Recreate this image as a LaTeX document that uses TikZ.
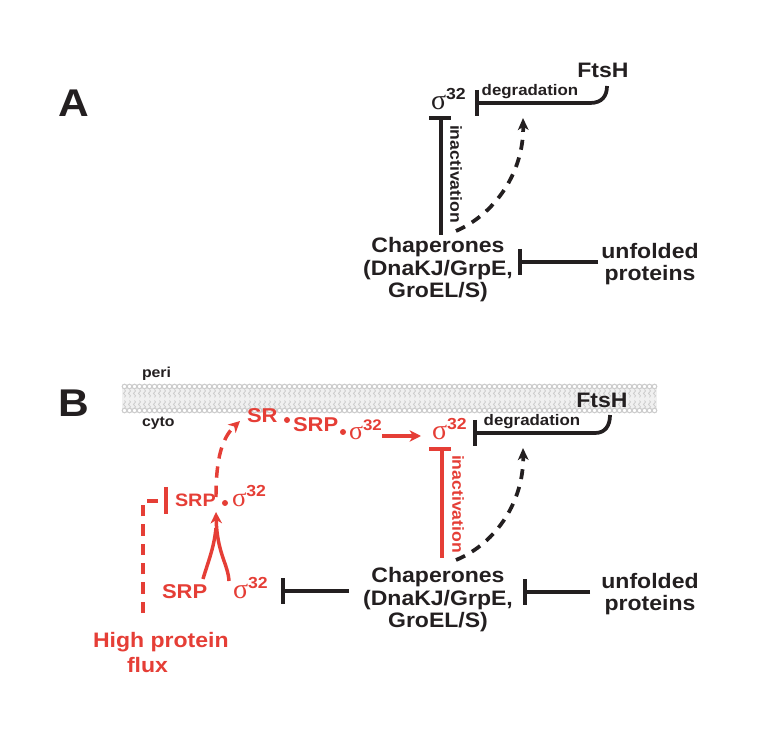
\documentclass[tikz,border=0pt]{standalone}
\usepackage{fontspec}
\setmainfont{Liberation Sans}[FakeStretch=1.1]
\newfontfamily\sigf{Liberation Serif}
\usetikzlibrary{arrows.meta,decorations.pathmorphing}
\definecolor{rd}{RGB}{229,62,54}
\definecolor{bk}{RGB}{35,31,32}
\definecolor{memb}{RGB}{205,205,205}
\definecolor{membl}{RGB}{240,240,240}
\newcommand\sgm[3]{{\sigf\fontsize{#1}{#1}\selectfont σ}\raisebox{#2}{\fontsize{#3}{#3}\selectfont\bfseries 32}}
\begin{document}
\begin{tikzpicture}[x=0.75pt,y=-0.75pt,
  every node/.style={inner sep=0pt,outer sep=0pt},
  big/.style={font=\fontsize{29}{29}\selectfont\bfseries,text=bk},
  txt/.style={font=\fontsize{15.7}{16.9}\selectfont\bfseries,text=bk,align=center},
  rtxt/.style={font=\fontsize{15}{16}\selectfont\bfseries,text=rd},
  small/.style={font=\fontsize{11.5}{12}\selectfont\bfseries,text=bk},
  tiny/.style={font=\fontsize{10.8}{11}\selectfont\bfseries,text=bk},
  rotl/.style={font=\fontsize{12}{12}\selectfont\bfseries,rotate=-90},
  bline/.style={draw=bk,line width=2.8pt},
  rline/.style={draw=rd,line width=2.6pt},
  bdash/.style={draw=bk,line width=2.8pt,dash pattern=on 7.5pt off 6pt},
  rdash/.style={draw=rd,line width=2.6pt,dash pattern=on 8.5pt off 6pt},
  tipk/.style={-{Stealth[length=9pt,width=8pt,inset=2.5pt]}},
  tipr/.style={-{Stealth[length=8.5pt,width=8.5pt,inset=2.5pt]}},
]
\useasboundingbox (0,0) rectangle (768,741);

% ================= Panel A =================
\node[big] (labA) at (74,103) {A};
\node[anchor=base west,text=bk] (sigA) at (431,110) {\sgm{21}{7.5pt}{12}};
\node[txt,anchor=base] (ftsA) at (603,78) {FtsH};
\node[small,anchor=base] (degA) at (530,96) {degradation};
\node[txt] (chapA) at (438,270) {Chaperones\\(DnaKJ/GrpE,\\GroEL/S)};
\node[txt] (unfA) at (650,264) {unfolded\\proteins};
\node[rotl,text=bk] (inaA) at (456,174) {inactivation};

\coordinate (dA1) at (477,103);
\coordinate (dA2) at (590,103);
\coordinate (dA3) at (607,86);
\draw[bline] (dA3) .. controls (607,96) and (602,103) .. (dA2) -- (dA1);
\draw[bline] (477,90) -- (477,116);

\coordinate (iA1) at (441,118);
\coordinate (iA2) at (441,235);
\draw[bline] (iA2) -- (iA1);
\draw[bline] (429,118) -- (451,118);

\coordinate (sA1) at (456,231);
\coordinate (sA2) at (523,118);
\draw[bdash,tipk] (sA1) .. controls (497,213) and (524,170) .. (sA2);

\coordinate (uA1) at (598,262);
\coordinate (uA2) at (520,262);
\draw[bline] (uA1) -- (uA2);
\draw[bline] (520,249) -- (520,275);

% ================= Panel B =================
\node[big] (labB) at (74,403) {B};

% membrane
\fill[membl] (122,386) rectangle (657,411);
\foreach \i in {0,...,106}{
  \pgfmathsetmacro\xx{124.5+5*\i}
  \draw[memb,line width=0.6pt,decorate,decoration={snake,amplitude=0.8pt,segment length=3.6pt}] (\xx,389.5) -- (\xx,397.5);
  \draw[memb,line width=0.6pt,decorate,decoration={snake,amplitude=0.8pt,segment length=3.6pt}] (\xx,400.5) -- (\xx,408.5);
  \draw[memb,fill=white,line width=0.8pt] (\xx,386.5) circle (2.3);
  \draw[memb,fill=white,line width=0.8pt] (\xx,410.5) circle (2.3);
}
\node[tiny,anchor=base west] (peri) at (142,378) {peri};
\node[tiny,anchor=base west] (cyto) at (142,427) {cyto};

% SR . SRP . sigma complex
\node[rtxt,anchor=base west] (sr) at (247,423) {SR};
\fill[rd] (287,420) circle (3);
\node[rtxt,anchor=base west] (srp1) at (293,432) {SRP};
\fill[rd] (343,432) circle (3);
\node[anchor=base west,text=rd] (sig1) at (349,440) {\sgm{19.5}{7pt}{11.5}};

\node[anchor=base west,text=rd] (sig2) at (432,440) {\sgm{21}{7.5pt}{12}};
\draw[rline,tipr] (382,436) -- (421,436);

\node[txt,anchor=base] (ftsB) at (602,408) {FtsH};
\node[small,anchor=base] (degB) at (532,426) {degradation};
\draw[bline] (610,415) .. controls (610,426) and (605,433) .. (595,433) -- (475,433);
\draw[bline] (475,420) -- (475,446);

% red inactivation
\draw[rline] (442,558) -- (442,449);
\draw[rline] (429,449) -- (451,449);
\node[rotl,text=rd] (inaB) at (458,504) {inactivation};

% black dashed
\coordinate (sB1) at (456,560);
\coordinate (sB2) at (523,448);
\draw[bdash,tipk] (sB1) .. controls (497,543) and (524,500) .. (sB2);

\node[txt] (chapB) at (438,600) {Chaperones\\(DnaKJ/GrpE,\\GroEL/S)};
\node[txt] (unfB) at (650,594) {unfolded\\proteins};
\draw[bline] (590,592) -- (525,592);
\draw[bline] (525,579) -- (525,605);

% chaperones -| sigma
\draw[bline] (349,591) -- (283,591);
\draw[bline] (283,578) -- (283,604);

% bottom SRP + sigma
\node[rtxt,anchor=base west] (srp3) at (162,599) {SRP};
\node[anchor=base west,text=rd] (sig3) at (233,598) {\sgm{21}{7.5pt}{12}};
\draw[rline] (203,579) .. controls (208,562) and (214,548) .. (216,528);
\draw[rline,tipr] (229,581) .. controls (228,564) and (217,553) .. (216,512);

% middle SRP . sigma
\node[font=\fontsize{13.5}{14}\selectfont\bfseries,text=rd,anchor=base west] (srp2) at (175,507) {SRP};
\fill[rd] (225,503) circle (3);
\node[anchor=base west,text=rd] (sig4) at (232,507) {\sgm{20}{7.5pt}{12}};
\draw[rline] (166,487) -- (166,514);

% dashed arrow to SR
\draw[rdash,tipr] (216,497) .. controls (216,458) and (222,438) .. (240,421);

% high protein flux
\node[font=\fontsize{15.7}{16}\selectfont\bfseries,text=rd,anchor=base west] (hp) at (93,647) {High protein};
\node[font=\fontsize{15.7}{16}\selectfont\bfseries,text=rd,anchor=base west] (fl) at (127,672) {flux};
\draw[rdash] (143,613) -- (143,501) -- (160,501);
\end{tikzpicture}
\end{document}
